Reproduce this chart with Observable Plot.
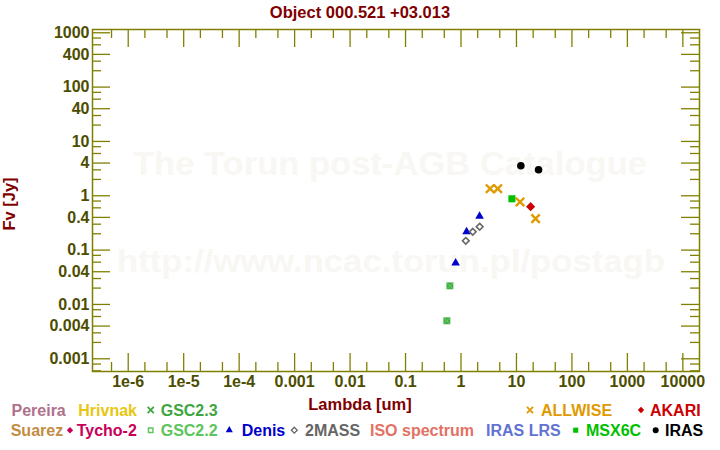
<!DOCTYPE html>
<html><head><meta charset="utf-8">
<script src="https://cdn.jsdelivr.net/npm/d3@7"></script>
<script src="https://cdn.jsdelivr.net/npm/@observablehq/plot@0.6"></script>
<style>
body{margin:0;background:#fff;}
#wrap{position:relative;width:720px;height:450px;overflow:hidden;}
#wrap svg{position:absolute;left:0;top:0;}
</style></head><body><div id="wrap"></div>
<script>
// ---- data (wavelength in micron, flux in Jy) ----
const irasLambda = [12, 25];
const irasFlux = [3.56, 3.01];
const allwiseLambda = [3.35, 4.6, 11.6, 22.1];
const allwiseFlux = [1.35, 1.35, 0.77, 0.38];
const msxLambda = [8.28];
const msxFlux = [0.88];
const akariLambda = [18];
const akariFlux = [0.63];
const denisLambda = [0.80, 1.26, 2.16];
const denisFlux = [0.058, 0.217, 0.42];
const twomassLambda = [1.22, 1.63, 2.17];
const twomassFlux = [0.148, 0.217, 0.269];
const gsc23Lambda = [0.556, 0.63];
const gsc23Flux = [0.005, 0.022];
const gsc22Lambda = [0.556, 0.63];
const gsc22Flux = [0.005, 0.022];

// ---- tick labels ----
const xTickValues = [1e-6, 1e-5, 1e-4, 0.001, 0.01, 0.1, 1, 10, 100, 1000, 10000];
const xTickLabels = ["1e-6", "1e-5", "1e-4", "0.001", "0.01", "0.1", "1", "10", "100", "1000", "10000"];
const yTickValues = [1000, 400, 100, 40, 10, 4, 1, 0.4, 0.1, 0.04, 0.01, 0.004, 0.001];
const yTickLabels = ["1000", "400", "100", "40", "10", "4", "1", "0.4", "0.1", "0.04", "0.01", "0.004", "0.001"];

// ---- legend ----
const legendNames = ["Pereira","Hrivnak","GSC2.3","ALLWISE","AKARI","Suarez","Tycho-2","GSC2.2","Denis","2MASS","ISO spectrum","IRAS LRS","MSX6C","IRAS"];
const legendColors = ["#b0708c","#e8c610","#3fa63f","#e09a00","#cc0000","#c48c42","#c8005a","#5cc45c","#0000cc","#666666","#e27264","#6272d2","#00c000","#000000"];
const legendSymbols = [null,null,"times","times","diamond",null,"diamond","squareOpen","triangle","diamondOpen",null,null,"square","circle"];

// ---- layout ----
const W = 720, H = 450, mL = 92, mR = 21, mT = 29, mB = 79;
const xDomain = [10 ** -6.644, 10 ** 4.30];
const yDomain = [10 ** -3.234, 10 ** 3.06];
const xDecPx = (W - mL - mR) / Math.log10(xDomain[1] / xDomain[0]);
const yDecPx = (H - mT - mB) / Math.log10(yDomain[1] / yDomain[0]);
const axisColor = "#808000";
const labelColor = "#4d4d00";
const titleColor = "#800000";
const font = "'Liberation Sans', Arial, sans-serif";

const rec = (L, F) => L.map((l, i) => ({l, f: F[i]}));

// minor ticks
const inRange = (v, d) => v >= d[0] && v <= d[1];
const xMinor = [], yMinor = [];
for (let e = -8; e <= 5; e++) {
  for (const m of [2, 5]) { const v = m * 10 ** e; if (inRange(v, xDomain)) xMinor.push(v); }
  for (const m of [2, 3, 6, 8]) { const v = m * 10 ** e; if (inRange(v, yDomain)) yMinor.push(v); }
}
const xMajor = xTickValues.map((v, i) => ({v, t: xTickLabels[i]})).filter(d => inRange(d.v, xDomain));
const yMajor = yTickValues.map((v, i) => ({v, t: yTickLabels[i]})).filter(d => inRange(d.v, yDomain));

const longT = 18, shortT = 9;
const yUp = len => yDomain[0] * 10 ** (len / yDecPx);
const yDown = len => yDomain[1] / 10 ** (len / yDecPx);
const xRight = len => xDomain[0] * 10 ** (len / xDecPx);
const xLeft = len => xDomain[1] / 10 ** (len / xDecPx);

const tickStyle = {stroke: axisColor, strokeWidth: 1.3};
const labStyle = {fontSize: 16, fontWeight: "bold", fill: labelColor, fontFamily: font};

const plot = Plot.plot({
  width: W, height: H,
  marginLeft: mL, marginRight: mR, marginTop: mT, marginBottom: mB,
  x: {type: "log", domain: xDomain, axis: null},
  y: {type: "log", domain: yDomain, axis: null},
  style: {background: "transparent", fontFamily: font},
  marks: [
    // ticks, inward
    Plot.ruleX(xMajor, {x: "v", y1: () => yDomain[0], y2: () => yUp(longT), ...tickStyle}),
    Plot.ruleX(xMinor, {x: d => d, y1: () => yDomain[0], y2: () => yUp(shortT), ...tickStyle}),
    Plot.ruleX(xMajor, {x: "v", y1: () => yDomain[1], y2: () => yDown(longT), ...tickStyle}),
    Plot.ruleX(xMinor, {x: d => d, y1: () => yDomain[1], y2: () => yDown(shortT), ...tickStyle}),
    Plot.ruleY(yMajor, {y: "v", x1: () => xDomain[0], x2: () => xRight(longT), ...tickStyle}),
    Plot.ruleY(yMinor, {y: d => d, x1: () => xDomain[0], x2: () => xRight(shortT), ...tickStyle}),
    Plot.ruleY(yMajor, {y: "v", x1: () => xDomain[1], x2: () => xLeft(longT), ...tickStyle}),
    Plot.ruleY(yMinor, {y: d => d, x1: () => xDomain[1], x2: () => xLeft(shortT), ...tickStyle}),
    Plot.frame({stroke: axisColor, strokeWidth: 1.5}),
    // tick labels
    Plot.text(xMajor, {x: "v", text: "t", frameAnchor: "bottom", lineAnchor: "top", dy: 4, ...labStyle}),
    Plot.text(yMajor, {y: "v", text: "t", frameAnchor: "left", textAnchor: "end", dx: -3, ...labStyle}),
    // data
    Plot.dot(rec(gsc22Lambda, gsc22Flux), {x: "l", y: "f", symbol: "square", r: 3.9, fill: "#44ad44"}),
    Plot.dot(rec(gsc23Lambda, gsc23Flux), {x: "l", y: "f", symbol: "times", r: 2.9, stroke: "#66cc66", strokeWidth: 1}),
    Plot.dot(rec(denisLambda, denisFlux), {x: "l", y: "f", symbol: "triangle", r: 3.2, fill: "#0000cc"}),
    Plot.dot(rec(twomassLambda, twomassFlux), {x: "l", y: "f", symbol: "diamond2", r: 3, stroke: "#666666", strokeWidth: 1.6, fill: "white"}),
    Plot.dot(rec(msxLambda, msxFlux), {x: "l", y: "f", symbol: "square", r: 4, fill: "#00c000"}),
    Plot.dot(rec(allwiseLambda, allwiseFlux), {x: "l", y: "f", symbol: "times", r: 3.9, stroke: "#e09a00", strokeWidth: 2.4}),
    Plot.dot(rec(akariLambda, akariFlux), {x: "l", y: "f", symbol: "diamond2", r: 4.1, fill: "#cc0000"}),
    Plot.dot(rec(irasLambda, irasFlux), {x: "l", y: "f", symbol: "circle", r: 3.8, fill: "#000000"})
  ]
});
document.getElementById("wrap").appendChild(plot);

// watermark behind everything
const svgSel = d3.select(plot);
const wm = svgSel.insert("g", "g").attr("font-family", font).attr("font-weight", "bold").attr("fill", "#f8f7f3").attr("text-anchor", "middle");
wm.append("text").attr("x", 390).attr("y", 175).attr("font-size", 34).attr("textLength", 514).attr("lengthAdjust", "spacingAndGlyphs").text("The Torun post-AGB Catalogue");
wm.append("text").attr("x", 391).attr("y", 272).attr("font-size", 32).attr("textLength", 548).attr("lengthAdjust", "spacingAndGlyphs").text("http://www.ncac.torun.pl/postagb");

// overlay: title, axis titles, legend
const ov = d3.select("#wrap").append("svg").attr("width", W).attr("height", H)
  .style("pointer-events", "none").attr("font-family", font).attr("font-weight", "bold");
ov.append("text").attr("x", 360).attr("y", 17.5).attr("text-anchor", "middle").attr("font-size", 16.5).attr("fill", titleColor).text("Object 000.521 +03.013");
ov.append("text").attr("x", 360).attr("y", 409.5).attr("text-anchor", "middle").attr("font-size", 16.5).attr("fill", titleColor).text("Lambda [um]");
ov.append("text").attr("transform", "translate(15,204) rotate(-90)").attr("text-anchor", "middle").attr("font-size", 16.5).attr("fill", titleColor).text("Fv [Jy]");

const legendLayout = [
  {tx: 11.5, row: 0}, {tx: 78.3, row: 0}, {sx: 150.7, tx: 160.7, row: 0}, {sx: 530, tx: 541, row: 0}, {sx: 641, tx: 650, row: 0},
  {tx: 10.7, row: 1}, {sx: 70, tx: 76.7, row: 1}, {sx: 150.7, tx: 160.7, row: 1}, {sx: 229.3, tx: 241.7, row: 1},
  {sx: 294.3, tx: 305, row: 1}, {tx: 370, row: 1}, {tx: 486, row: 1}, {sx: 575.7, tx: 586, row: 1}, {sx: 655.7, tx: 665, row: 1}
];
const rowBase = [415.5, 435.7];
const symDefs = {
  times: {t: d3.symbolTimes, s: 26, stroke: true, sw: 1.8},
  diamond: {t: d3.symbolDiamond2, s: 26},
  squareOpen: {t: d3.symbolSquare, s: 20, stroke: true, sw: 1.4},
  square: {t: d3.symbolSquare, s: 26},
  triangle: {t: d3.symbolTriangle, s: 22},
  diamondOpen: {t: d3.symbolDiamond2, s: 22, stroke: true, sw: 1.3},
  circle: {t: d3.symbolCircle, s: 28}
};
legendNames.forEach((name, i) => {
  const L = legendLayout[i], base = rowBase[L.row], c = legendColors[i];
  ov.append("text").attr("x", L.tx).attr("y", base).attr("font-size", 16).attr("fill", c).text(name);
  const sym = legendSymbols[i];
  if (sym) {
    const def = symDefs[sym];
    const p = ov.append("path").attr("d", d3.symbol(def.t, def.s)()).attr("transform", `translate(${L.sx},${base - 5.5})`);
    if (def.stroke) p.attr("fill", "none").attr("stroke", c).attr("stroke-width", def.sw);
    else p.attr("fill", c);
  }
});
</script></body></html>
